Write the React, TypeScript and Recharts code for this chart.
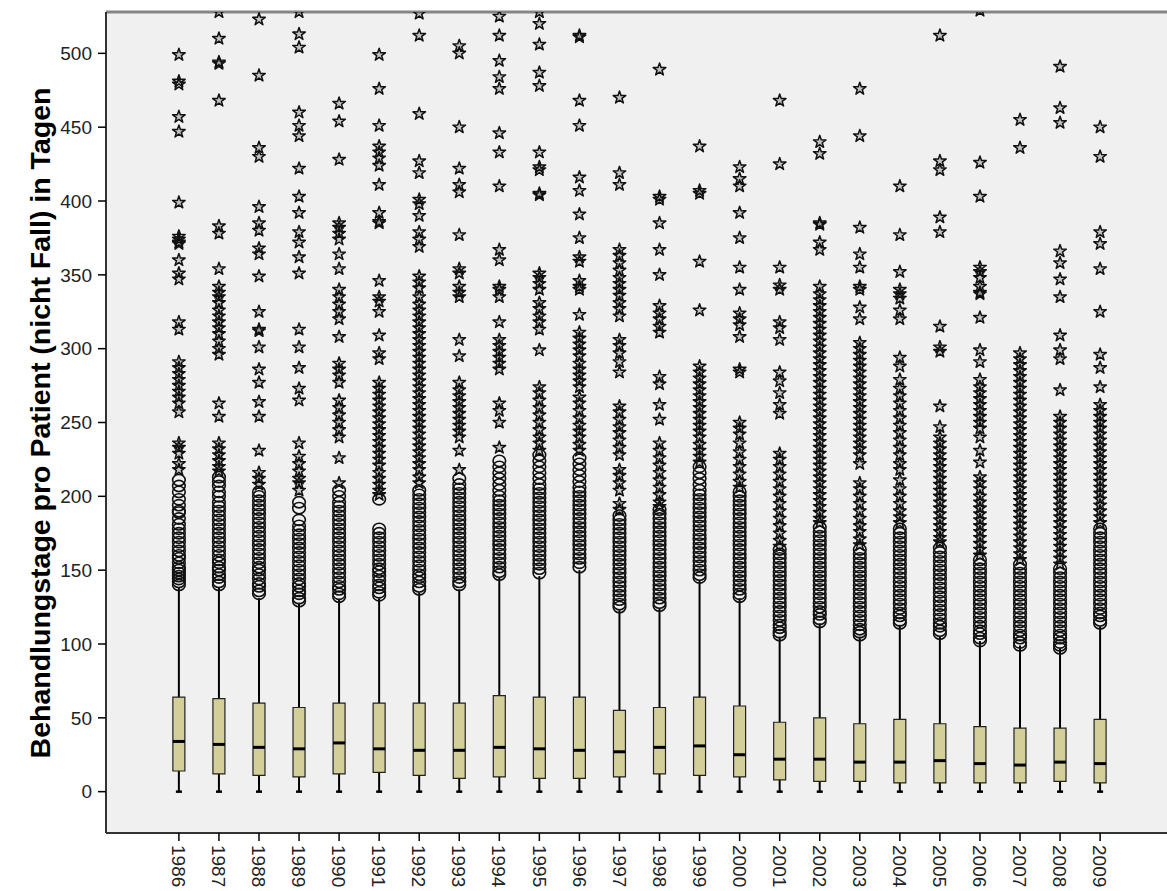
import React from 'react';
import { ComposedChart, Bar, Scatter, XAxis, YAxis, CartesianGrid, ReferenceLine } from 'recharts';

// Jahre (Kategorien)
const YEARS = [1986, 1987, 1988, 1989, 1990, 1991, 1992, 1993, 1994, 1995, 1996, 1997,
  1998, 1999, 2000, 2001, 2002, 2003, 2004, 2005, 2006, 2007, 2008, 2009];

// Boxplot-Kennwerte pro Jahr
const WHISKER_LOW = [0, 0, 0, 0, 0, 0, 0, 0, 0, 0, 0, 0, 0, 0, 0, 0, 0, 0, 0, 0, 0, 0, 0, 0];
const Q1 = [14, 12, 11, 10, 12, 13, 11, 9, 10, 9, 9, 10, 12, 11, 10, 8, 7, 7, 6, 6, 6, 6, 7, 6];
const MEDIAN = [34, 32, 30, 29, 33, 29, 28, 28, 30, 29, 28, 27, 30, 31, 25, 22, 22, 20, 20, 21, 19, 18, 20, 19];
const Q3 = [64, 63, 60, 57, 60, 60, 60, 60, 65, 64, 64, 55, 57, 64, 58, 47, 50, 46, 49, 46, 44, 43, 43, 49];
const WHISKER_HIGH = [138, 138, 131, 128, 130, 131, 135, 137, 145, 146, 150, 123, 124, 143, 131, 105, 114, 105, 113, 105, 102, 99, 97, 112];

// Ausreisser (Kreise)
const CIRCLES = [
  [140, 142, 144, 146, 148, 150, 152, 155, 158, 160, 163, 166, 169, 172, 175, 178, 181, 185, 189, 190, 194, 198, 203, 207, 211],
  [140, 142, 145, 147, 150, 152, 155, 157, 160, 163, 166, 169, 172, 175, 178, 181, 184, 187, 190, 193, 196, 200, 203, 207, 210, 213],
  [134, 136, 139, 141, 144, 147, 150, 152, 155, 158, 161, 164, 167, 170, 173, 176, 179, 182, 185, 188, 191, 194, 197, 200, 203],
  [129, 131, 134, 136, 139, 141, 144, 147, 150, 153, 156, 159, 162, 165, 168, 171, 174, 177, 180, 184, 192, 196],
  [132, 134, 137, 139, 142, 145, 148, 151, 154, 157, 160, 163, 166, 169, 172, 175, 178, 181, 184, 187, 190, 193, 196, 200, 204],
  [133, 135, 138, 140, 143, 146, 149, 151, 154, 157, 160, 163, 166, 169, 172, 175, 178, 198],
  [137, 139, 142, 145, 147, 150, 153, 156, 159, 162, 165, 168, 171, 174, 177, 180, 183, 186, 189, 192, 195, 198, 201, 204],
  [140, 142, 145, 148, 151, 154, 157, 160, 163, 166, 169, 172, 175, 178, 181, 184, 187, 190, 193, 196, 199, 202, 205, 208, 212],
  [147, 149, 152, 155, 158, 161, 164, 167, 170, 173, 176, 179, 182, 185, 188, 191, 194, 197, 200, 204, 208, 212, 216, 220, 224],
  [148, 151, 154, 157, 160, 163, 166, 169, 172, 175, 178, 181, 184, 187, 190, 193, 196, 199, 202, 205, 208, 212, 216, 220, 224, 228],
  [152, 155, 158, 161, 164, 167, 170, 173, 176, 179, 182, 185, 188, 191, 194, 197, 200, 203, 206, 210, 214, 218, 222, 226],
  [125, 127, 130, 133, 136, 139, 142, 145, 148, 151, 154, 157, 160, 163, 166, 169, 172, 175, 178, 181, 184, 187],
  [126, 128, 131, 134, 137, 140, 143, 146, 149, 152, 155, 158, 161, 164, 167, 170, 173, 176, 179, 182, 185, 188, 191],
  [145, 147, 150, 153, 156, 159, 162, 165, 168, 171, 174, 177, 180, 183, 186, 189, 192, 195, 198, 201, 204, 208, 212, 216, 220],
  [132, 134, 137, 140, 143, 146, 149, 152, 155, 158, 161, 164, 167, 170, 173, 176, 179, 182, 185, 188, 191, 194, 197, 200, 203],
  [106, 108, 111, 113, 116, 119, 122, 125, 128, 131, 134, 137, 140, 143, 146, 149, 152, 155, 158, 161, 164],
  [115, 117, 120, 122, 125, 128, 131, 134, 137, 140, 143, 146, 149, 152, 155, 158, 161, 164, 167, 170, 173, 176, 179],
  [106, 108, 110, 113, 116, 119, 122, 125, 128, 131, 134, 137, 140, 143, 146, 149, 152, 155, 158, 161, 164],
  [114, 116, 119, 121, 124, 127, 130, 133, 136, 139, 142, 145, 148, 151, 154, 157, 160, 163, 166, 169, 172, 175, 178],
  [107, 109, 112, 114, 117, 120, 123, 126, 129, 132, 135, 138, 141, 144, 147, 150, 153, 156, 159, 162, 165],
  [102, 104, 107, 109, 112, 115, 118, 121, 124, 127, 130, 133, 136, 139, 142, 145, 148, 151, 154, 157],
  [99, 101, 104, 106, 109, 112, 115, 118, 121, 124, 127, 130, 133, 136, 139, 142, 145, 148, 151, 154],
  [97, 99, 101, 104, 106, 109, 112, 115, 118, 121, 124, 127, 130, 133, 136, 139, 142, 145, 148, 151],
  [114, 116, 119, 121, 124, 127, 130, 133, 136, 139, 142, 145, 148, 151, 154, 157, 160, 163, 166, 169, 172, 175, 178],
];

// Extremwerte (Sterne)
const STARS = [
  [499, 481, 479, 457, 447, 399, 376, 374, 372, 371, 360, 351, 347, 318, 313, 291, 287, 283, 279, 275, 271, 267, 263, 257, 236, 233, 229, 222, 218],
  [528, 510, 494, 493, 468, 383, 378, 354, 342, 338, 335, 331, 326, 322, 318, 314, 310, 305, 300, 296, 263, 254, 236, 232, 228, 224, 220, 217],
  [523, 485, 436, 430, 396, 385, 380, 368, 364, 349, 325, 313, 312, 301, 286, 277, 264, 254, 231, 216, 212, 208],
  [528, 513, 504, 460, 451, 444, 422, 403, 392, 379, 372, 362, 351, 313, 301, 287, 273, 265, 236, 227, 222, 217, 212, 209, 204],
  [466, 454, 428, 385, 382, 378, 374, 364, 354, 340, 335, 330, 325, 320, 308, 290, 286, 282, 277, 265, 260, 255, 250, 245, 240, 226, 209],
  [499, 476, 451, 437, 433, 429, 424, 411, 392, 386, 385, 346, 335, 332, 325, 309, 297, 293, 277, 273, 269, 265, 261, 257, 253, 249, 245, 241, 237, 233, 229, 225, 221, 216, 212, 208, 204, 201],
  [527, 512, 459, 427, 419, 401, 398, 390, 379, 374, 369, 349, 345, 341, 335, 330, 326, 322, 318, 314, 310, 306, 302, 298, 294, 290, 286, 282, 278, 274, 270, 266, 262, 258, 254, 250, 246, 242, 238, 234, 230, 226, 222, 218, 213, 209],
  [505, 500, 450, 422, 411, 406, 377, 354, 351, 342, 338, 335, 306, 295, 277, 272, 268, 264, 260, 256, 252, 248, 244, 240, 231, 218],
  [525, 512, 495, 484, 476, 446, 433, 410, 367, 360, 342, 340, 335, 318, 306, 302, 298, 294, 290, 286, 263, 258, 250, 233],
  [528, 520, 506, 487, 478, 433, 423, 421, 405, 404, 351, 348, 344, 340, 331, 327, 322, 318, 313, 299, 274, 270, 265, 260, 255, 250, 245, 240, 236, 231],
  [512, 511, 468, 451, 416, 407, 391, 375, 362, 359, 346, 342, 340, 323, 311, 307, 303, 299, 295, 290, 286, 282, 278, 274, 267, 263, 258, 253, 248, 244, 240, 235, 231],
  [470, 419, 411, 367, 363, 358, 353, 348, 344, 340, 336, 331, 327, 322, 306, 302, 297, 291, 284, 261, 257, 252, 247, 243, 238, 233, 228, 218, 214, 209, 204, 195, 191],
  [489, 403, 401, 385, 367, 350, 329, 324, 320, 315, 311, 281, 276, 262, 252, 236, 231, 226, 221, 216, 211, 206, 201, 196, 193],
  [437, 407, 405, 359, 326, 288, 284, 280, 276, 272, 268, 264, 260, 256, 252, 248, 244, 240, 235, 231, 227, 223],
  [423, 415, 410, 392, 375, 355, 340, 324, 320, 316, 308, 286, 284, 250, 246, 242, 236, 230, 225, 220, 215, 210, 206],
  [468, 425, 355, 343, 340, 318, 314, 306, 284, 278, 270, 262, 256, 229, 225, 220, 215, 210, 205, 200, 195, 190, 185, 180, 175, 170, 166],
  [440, 432, 385, 384, 372, 367, 342, 337, 333, 329, 325, 321, 317, 313, 309, 305, 301, 297, 293, 289, 285, 281, 277, 273, 269, 265, 261, 257, 253, 249, 245, 241, 237, 233, 229, 225, 221, 217, 213, 209, 205, 201, 197, 193, 189, 185, 182],
  [476, 444, 382, 364, 355, 342, 340, 328, 320, 304, 300, 296, 292, 288, 284, 280, 276, 272, 268, 264, 260, 256, 252, 248, 244, 240, 236, 232, 228, 222, 209, 205, 200, 195, 190, 185, 180, 176, 171, 167],
  [410, 377, 352, 340, 337, 334, 326, 320, 294, 288, 279, 273, 268, 263, 258, 253, 248, 243, 238, 233, 228, 222, 218, 211, 205, 200, 195, 190, 186, 182],
  [512, 427, 421, 389, 379, 315, 301, 298, 261, 247, 240, 236, 232, 228, 224, 220, 216, 212, 208, 204, 200, 196, 192, 188, 184, 180, 176, 172, 169],
  [529, 426, 403, 355, 352, 348, 342, 338, 337, 321, 299, 291, 279, 274, 270, 266, 262, 258, 254, 250, 246, 240, 231, 223, 213, 209, 205, 200, 196, 192, 188, 184, 180, 176, 172, 168, 164, 160],
  [455, 436, 297, 293, 289, 285, 281, 277, 273, 269, 265, 261, 257, 253, 249, 245, 241, 237, 233, 229, 225, 221, 217, 213, 209, 205, 201, 197, 193, 189, 185, 181, 177, 173, 169, 165, 161, 157],
  [491, 463, 453, 366, 358, 347, 335, 309, 299, 293, 272, 254, 250, 246, 242, 238, 234, 230, 226, 222, 218, 214, 210, 206, 202, 198, 194, 190, 186, 182, 178, 174, 170, 166, 162, 158, 154],
  [450, 430, 379, 371, 354, 325, 296, 287, 274, 262, 258, 254, 250, 246, 242, 238, 234, 230, 226, 222, 218, 214, 210, 206, 202, 198, 194, 190, 186, 182],
];

const Y_TICKS = [0, 50, 100, 150, 200, 250, 300, 350, 400, 450, 500];
const X_DOMAIN: [number, number] = [1984.18, 2010.67];
const Y_DOMAIN: [number, number] = [-28, 528];

const FONT = 'Arial, "Liberation Sans", sans-serif';

const boxData = YEARS.map((year, i) => ({
  year,
  low: WHISKER_LOW[i],
  q1: Q1[i],
  med: MEDIAN[i],
  q3: Q3[i],
  high: WHISKER_HIGH[i],
}));
const circleData = YEARS.flatMap((year, i) => CIRCLES[i].map((v) => ({ year, v })));
const starData = YEARS.flatMap((year, i) => STARS[i].map((v) => ({ year, v })));

const YearTick = (props: any) => {
  const { x, y, payload } = props;
  return (
    <text
      x={x}
      y={y}
      dx={2}
      dy="0.36em"
      transform={`rotate(90, ${x}, ${y})`}
      textAnchor="start"
      fontSize={19}
      fontFamily={FONT}
      fill="#222"
    >
      {payload.value}
    </text>
  );
};

const MedianMark = (props: any) => (
  <line x1={props.cx - 6} x2={props.cx + 6} y1={props.cy} y2={props.cy} stroke="#000" strokeWidth={3} />
);

const CapMark = (props: any) => (
  <line x1={props.cx - 3} x2={props.cx + 3} y1={props.cy} y2={props.cy} stroke="#000" strokeWidth={2.5} />
);

const CircleMark = (props: any) => (
  <ellipse cx={props.cx} cy={props.cy} rx={6.3} ry={5.6} fill="none" stroke="#111" strokeWidth={1.6} />
);

const starPath = (() => {
  const pts: string[] = [];
  for (let i = 0; i < 10; i++) {
    const a = (-90 + i * 36) * (Math.PI / 180);
    const r = i % 2 === 0 ? 6.6 : 2.6;
    pts.push(`${(r * Math.cos(a)).toFixed(2)},${(r * Math.sin(a)).toFixed(2)}`);
  }
  return 'M' + pts.join('L') + 'Z';
})();

const StarMark = (props: any) => (
  <path
    d={starPath}
    transform={`translate(${props.cx}, ${props.cy})`}
    fill="rgba(0,0,0,0.18)"
    stroke="#111"
    strokeWidth={1.5}
    strokeLinejoin="round"
  />
);

export default function App() {
  return (
    <div style={{ position: 'absolute', left: 0, top: 0, width: 1167, height: 891, background: '#fff' }}>
      <ComposedChart width={1167} height={891} data={boxData} margin={{ top: 12, right: 0, bottom: 0, left: 0 }}>
        <CartesianGrid fill="#f0f0f0" horizontal={false} vertical={false} />
        <XAxis
          dataKey="year"
          type="number"
          domain={X_DOMAIN}
          allowDataOverflow
          ticks={YEARS}
          interval={0}
          height={58}
          tickSize={8}
          tickMargin={2}
          tick={<YearTick />}
          tickLine={{ stroke: '#000', strokeWidth: 1.5 }}
          axisLine={{ stroke: '#333', strokeWidth: 2 }}
        />
        <XAxis xAxisId="whisk" dataKey="year" type="number" domain={X_DOMAIN} allowDataOverflow hide />
        <XAxis xAxisId="box" dataKey="year" type="number" domain={X_DOMAIN} allowDataOverflow hide />
        <YAxis
          type="number"
          domain={Y_DOMAIN}
          allowDataOverflow
          ticks={Y_TICKS}
          interval={0}
          width={106}
          tickSize={8}
          tickMargin={6}
          tick={{ fill: '#222', fontSize: 19, fontFamily: FONT }}
          tickLine={{ stroke: '#000', strokeWidth: 1.5 }}
          axisLine={{ stroke: '#333', strokeWidth: 2 }}
        />
        <ReferenceLine y={528} stroke="#858585" strokeWidth={3} />
        <Bar
          xAxisId="whisk"
          dataKey={(d: any) => [d.low, d.high]}
          barSize={2}
          fill="#000"
          isAnimationActive={false}
        />
        <Bar
          xAxisId="box"
          dataKey={(d: any) => [d.q1, d.q3]}
          barSize={12}
          fill="#d4cf98"
          stroke="#222"
          strokeWidth={1.2}
          isAnimationActive={false}
        />
        <Scatter dataKey="med" shape={MedianMark} isAnimationActive={false} />
        <Scatter dataKey="low" shape={CapMark} isAnimationActive={false} />
        <Scatter data={circleData} dataKey="v" shape={CircleMark} isAnimationActive={false} />
        <Scatter data={starData} dataKey="v" shape={StarMark} isAnimationActive={false} />
      </ComposedChart>
      <div
        style={{
          position: 'absolute',
          left: 40,
          top: 423,
          transform: 'translate(-50%, -50%) rotate(-90deg)',
          whiteSpace: 'nowrap',
          fontFamily: FONT,
          fontWeight: 'bold',
          fontSize: 28.5,
          color: '#000',
        }}
      >
        Behandlungstage pro Patient (nicht Fall) in Tagen
      </div>
    </div>
  );
}
